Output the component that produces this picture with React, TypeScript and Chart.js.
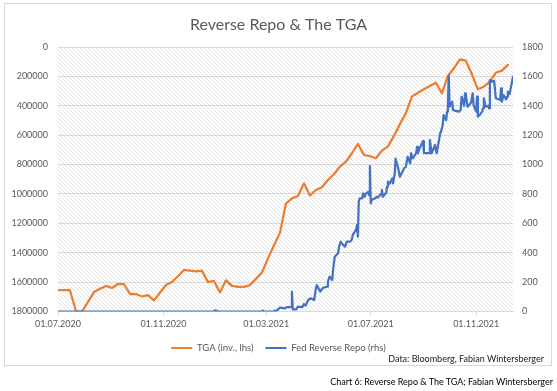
import React, { useEffect, useRef } from "react";
import { Chart, registerables } from "chart.js";

Chart.register(...registerables);

const FONT = "Lato, 'Open Sans', sans-serif";
const TITLE = "Reverse Repo & The TGA";
const TGA_LABEL = "TGA (inv., lhs)";
const RRP_LABEL = "Fed Reverse Repo (rhs)";
const SOURCE_NOTE = "Data: Bloomberg, Fabian Wintersberger";
const CAPTION = "Chart 6: Reverse Repo & The TGA; Fabian Wintersberger";

const START_DATE = "2020-07-01";
const END_DATE = "2021-12-14";
const xTickDates = ["2020-07-01", "2020-11-01", "2021-03-01", "2021-07-01", "2021-11-01"];

const leftMin = 0;
const leftMax = 1800000;
const leftStep = 200000;
const rightMin = 0;
const rightMax = 1800;
const rightStep = 200;

// Treasury General Account (weekly, millions USD) - plotted on inverted left axis
const tgaDates = [
  "2020-07-01", "2020-07-08", "2020-07-15", "2020-07-22", "2020-07-29", "2020-08-05", "2020-08-12", "2020-08-19",
  "2020-08-26", "2020-09-02", "2020-09-09", "2020-09-16", "2020-09-23", "2020-09-30", "2020-10-07", "2020-10-14",
  "2020-10-21", "2020-10-28", "2020-11-04", "2020-11-11", "2020-11-18", "2020-11-25", "2020-12-02", "2020-12-09",
  "2020-12-16", "2020-12-23", "2020-12-30", "2021-01-06", "2021-01-13", "2021-01-20", "2021-01-27", "2021-02-03",
  "2021-02-10", "2021-02-17", "2021-02-24", "2021-03-03", "2021-03-10", "2021-03-17", "2021-03-24", "2021-03-31",
  "2021-04-07", "2021-04-14", "2021-04-21", "2021-04-28", "2021-05-05", "2021-05-12", "2021-05-19", "2021-05-26",
  "2021-06-02", "2021-06-09", "2021-06-16", "2021-06-23", "2021-06-30", "2021-07-07", "2021-07-14", "2021-07-21",
  "2021-07-28", "2021-08-04", "2021-08-11", "2021-08-18", "2021-08-25", "2021-09-01", "2021-09-08", "2021-09-15",
  "2021-09-22", "2021-09-29", "2021-10-06", "2021-10-13", "2021-10-20", "2021-10-27", "2021-11-03", "2021-11-10",
  "2021-11-17", "2021-11-24", "2021-12-01", "2021-12-08",
];
const tgaValues = [
  1655000, 1655000, 1655000, 1800000, 1800000, 1735000, 1668000, 1645000,
  1626000, 1640000, 1613000, 1613000, 1681000, 1681000, 1698000, 1688000,
  1724000, 1672000, 1620000, 1599000, 1560000, 1517000, 1522000, 1527000,
  1522000, 1600000, 1592000, 1670000, 1588000, 1626000, 1632000, 1632000,
  1620000, 1578000, 1535000, 1440000, 1350000, 1265000, 1065000, 1030000,
  1014000, 928000, 1010000, 973000, 955000, 905000, 866000, 814000,
  780000, 723000, 660000, 735000, 742000, 757000, 705000, 678000,
  605000, 525000, 450000, 338000, 311000, 288000, 265000, 243000,
  315000, 197000, 145000, 84000, 93000, 184000, 288000, 270000,
  236000, 175000, 161000, 122000,
];

// Fed overnight reverse repo (billions USD) - right axis
const rrpDates = [
  "2020-07-01", "2020-12-30", "2020-12-31", "2021-01-04", "2021-02-24", "2021-02-25", "2021-02-26", "2021-03-10",
  "2021-03-11", "2021-03-12", "2021-03-17", "2021-03-23", "2021-03-25", "2021-03-30", "2021-03-31", "2021-04-01",
  "2021-04-05", "2021-04-07", "2021-04-12", "2021-04-14", "2021-04-16", "2021-04-19", "2021-04-22", "2021-04-26",
  "2021-04-28", "2021-04-29", "2021-05-03", "2021-05-06", "2021-05-11", "2021-05-12", "2021-05-14", "2021-05-17",
  "2021-05-18", "2021-05-20", "2021-05-24", "2021-05-25", "2021-05-27", "2021-05-28", "2021-06-01", "2021-06-03",
  "2021-06-07", "2021-06-09", "2021-06-10", "2021-06-14", "2021-06-15", "2021-06-16", "2021-06-17", "2021-06-18",
  "2021-06-21", "2021-06-22", "2021-06-24", "2021-06-25", "2021-06-28", "2021-06-29", "2021-06-30", "2021-07-01",
  "2021-07-02", "2021-07-06", "2021-07-08", "2021-07-09", "2021-07-13", "2021-07-14", "2021-07-15", "2021-07-19",
  "2021-07-20", "2021-07-21", "2021-07-23", "2021-07-26", "2021-07-27", "2021-07-29", "2021-07-30", "2021-08-02",
  "2021-08-04", "2021-08-09", "2021-08-11", "2021-08-13", "2021-08-16", "2021-08-17", "2021-08-19", "2021-08-23",
  "2021-08-24", "2021-08-25", "2021-08-27", "2021-08-31", "2021-09-01", "2021-09-07", "2021-09-08", "2021-09-10",
  "2021-09-14", "2021-09-16", "2021-09-20", "2021-09-21", "2021-09-23", "2021-09-24", "2021-09-27", "2021-09-28",
  "2021-09-29", "2021-09-30", "2021-10-01", "2021-10-04", "2021-10-05", "2021-10-08", "2021-10-12", "2021-10-14",
  "2021-10-15", "2021-10-18", "2021-10-19", "2021-10-20", "2021-10-22", "2021-10-26", "2021-10-28", "2021-10-29",
  "2021-11-01", "2021-11-02", "2021-11-03", "2021-11-05", "2021-11-08", "2021-11-09", "2021-11-10", "2021-11-12",
  "2021-11-15", "2021-11-16", "2021-11-17", "2021-11-19", "2021-11-22", "2021-11-24", "2021-11-29", "2021-11-30",
  "2021-12-01", "2021-12-03", "2021-12-06", "2021-12-07", "2021-12-08", "2021-12-10", "2021-12-14",
];
const rrpValues = [
  0, 0, 8, 0, 0, 6, 0, 0,
  6, 0, 26, 22, 30, 30, 135, 14,
  14, 33, 30, 51, 40, 78, 90, 78,
  158, 180, 135, 160, 169, 203, 237, 214,
  282, 373, 398, 441, 475, 464, 441, 475,
  475, 491, 520, 560, 589, 509, 747, 770,
  770, 804, 781, 800, 815, 793, 990, 736,
  759, 770, 781, 775, 800, 827, 781, 808,
  849, 883, 870, 906, 872, 940, 1040, 975,
  917, 975, 985, 1053, 1008, 1077, 1042, 1077,
  1121, 1077, 1110, 1160, 1077, 1077, 1167, 1077,
  1133, 1077, 1213, 1224, 1269, 1337, 1303, 1360,
  1405, 1605, 1394, 1428, 1371, 1365, 1360, 1371,
  1462, 1400, 1485, 1470, 1394, 1420, 1485, 1405,
  1360, 1462, 1326, 1337, 1360, 1383, 1450, 1394,
  1400, 1383, 1575, 1564, 1570, 1451, 1439, 1519,
  1428, 1473, 1444, 1462, 1496, 1480, 1598,
];

const ORANGE = "#ED7D31";
const BLUE = "#4472C4";
const GRID = "#d9d9d9";
const TEXT = "#595959";

const DAY_MS = 86400000;
const ORIGIN = (() => {
  const [y, m, d] = START_DATE.split("-").map(Number);
  return Date.UTC(y, m - 1, d);
})();

function dayNum(s: string): number {
  const [y, m, d] = s.split("-").map(Number);
  return Math.round((Date.UTC(y, m - 1, d) - ORIGIN) / DAY_MS);
}

function fmtDay(day: number): string {
  const dt = new Date(ORIGIN + day * DAY_MS);
  const dd = String(dt.getUTCDate()).padStart(2, "0");
  const mm = String(dt.getUTCMonth() + 1).padStart(2, "0");
  return `${dd}.${mm}.${dt.getUTCFullYear()}`;
}

const hatchPlugin = {
  id: "hatch",
  beforeDraw(chart: any) {
    const { ctx, chartArea: a } = chart;
    if (!a) return;
    const tile = document.createElement("canvas");
    tile.width = 4;
    tile.height = 4;
    const tc = tile.getContext("2d")!;
    tc.fillStyle = "#ffffff";
    tc.fillRect(0, 0, 4, 4);
    tc.fillStyle = "#e3e3e3";
    for (let i = 0; i < 4; i++) tc.fillRect(i, i, 1, 1);
    const pat = ctx.createPattern(tile, "repeat");
    ctx.save();
    ctx.fillStyle = pat;
    ctx.fillRect(a.left, a.top, a.right - a.left, a.bottom - a.top);
    ctx.restore();
  },
};

export default function App() {
  const ref = useRef<HTMLCanvasElement | null>(null);

  useEffect(() => {
    if (!ref.current) return;
    const tickFont = { family: FONT, size: 9 };
    const chart = new Chart(ref.current, {
      type: "line",
      data: {
        datasets: [
          {
            label: TGA_LABEL,
            data: tgaDates.map((d, i) => ({ x: dayNum(d), y: tgaValues[i] })),
            yAxisID: "yL",
            borderColor: ORANGE,
            backgroundColor: ORANGE,
            borderWidth: 2.25,
            pointRadius: 0,
            tension: 0,
            borderJoinStyle: "round",
            borderCapStyle: "round",
            order: 1,
          },
          {
            label: RRP_LABEL,
            data: rrpDates.map((d, i) => ({ x: dayNum(d), y: rrpValues[i] })),
            yAxisID: "yR",
            borderColor: BLUE,
            backgroundColor: BLUE,
            borderWidth: 2.25,
            pointRadius: 0,
            tension: 0,
            borderJoinStyle: "round",
            borderCapStyle: "round",
            order: 0,
          },
        ],
      },
      options: {
        responsive: false,
        animation: false,
        devicePixelRatio: 1,
        layout: { padding: { left: 0, right: 0, top: 0, bottom: 28.25 } },
        plugins: {
          tooltip: { enabled: false },
          title: {
            display: true,
            text: TITLE,
            color: TEXT,
            font: { family: FONT, size: 16, weight: "normal" },
            padding: { top: 15, bottom: 12.8 },
          },
          legend: {
            display: true,
            position: "bottom",
            labels: {
              color: TEXT,
              font: { family: FONT, size: 9.5 },
              boxWidth: 21,
              boxHeight: 2,
              padding: 12,
              generateLabels(c: any) {
                const items = (Chart as any).defaults.plugins.legend.labels.generateLabels(c);
                return items
                  .map((it: any) => ({ ...it, fillStyle: it.strokeStyle, lineWidth: 0 }))
                  .sort((a: any, b: any) => a.datasetIndex - b.datasetIndex);
              },
              sort: (a: any, b: any) => a.datasetIndex - b.datasetIndex,
            },
          },
        },
        scales: {
          x: {
            type: "linear",
            min: dayNum(START_DATE),
            max: dayNum(END_DATE),
            afterBuildTicks(scale: any) {
              scale.ticks = xTickDates.map((d) => ({ value: dayNum(d) }));
            },
            afterFit(scale: any) {
              scale.height = 19.75;
            },
            ticks: {
              autoSkip: false,
              maxRotation: 0,
              color: TEXT,
              font: tickFont,
              padding: 3,
              callback: (v: any) => fmtDay(Number(v)),
            },
            grid: { drawOnChartArea: false, drawTicks: true, tickLength: 4, color: GRID },
            border: { display: true, color: GRID },
          },
          yL: {
            type: "linear",
            position: "left",
            reverse: true,
            min: leftMin,
            max: leftMax,
            afterFit(scale: any) {
              scale.width = 58;
            },
            ticks: {
              stepSize: leftStep,
              color: TEXT,
              font: tickFont,
              padding: 10,
              callback: (v: any) => String(v),
            },
            grid: { color: GRID, drawTicks: false },
            border: { display: false },
          },
          yR: {
            type: "linear",
            position: "right",
            min: rightMin,
            max: rightMax,
            afterFit(scale: any) {
              scale.width = 44;
            },
            ticks: {
              stepSize: rightStep,
              color: TEXT,
              font: tickFont,
              padding: 9,
              callback: (v: any) => String(v),
            },
            grid: { drawOnChartArea: false, drawTicks: false },
            border: { display: false },
          },
        },
      },
      plugins: [hatchPlugin],
    } as any);
    return () => chart.destroy();
  }, []);

  return (
    <div style={{ position: "absolute", left: 0, top: 0, width: 557, height: 391, background: "#ffffff", overflow: "hidden" }}>
      <div
        style={{
          position: "absolute",
          left: 4,
          top: 3,
          width: 548,
          height: 363,
          boxSizing: "border-box",
          border: "1px solid #d9d9d9",
        }}
      />
      <canvas ref={ref} width={557} height={391} style={{ position: "absolute", left: 0, top: 0, width: 557, height: 391 }} />
      <div
        style={{
          position: "absolute",
          right: 13,
          top: 353,
          fontFamily: FONT,
          fontSize: 9,
          lineHeight: "12px",
          color: "#1a1a1a",
          whiteSpace: "nowrap",
        }}
      >
        {SOURCE_NOTE}
      </div>
      <div
        style={{
          position: "absolute",
          right: 4,
          top: 376,
          fontFamily: FONT,
          fontSize: 9,
          lineHeight: "12px",
          color: "#000000",
          whiteSpace: "nowrap",
        }}
      >
        {CAPTION}
      </div>
    </div>
  );
}
